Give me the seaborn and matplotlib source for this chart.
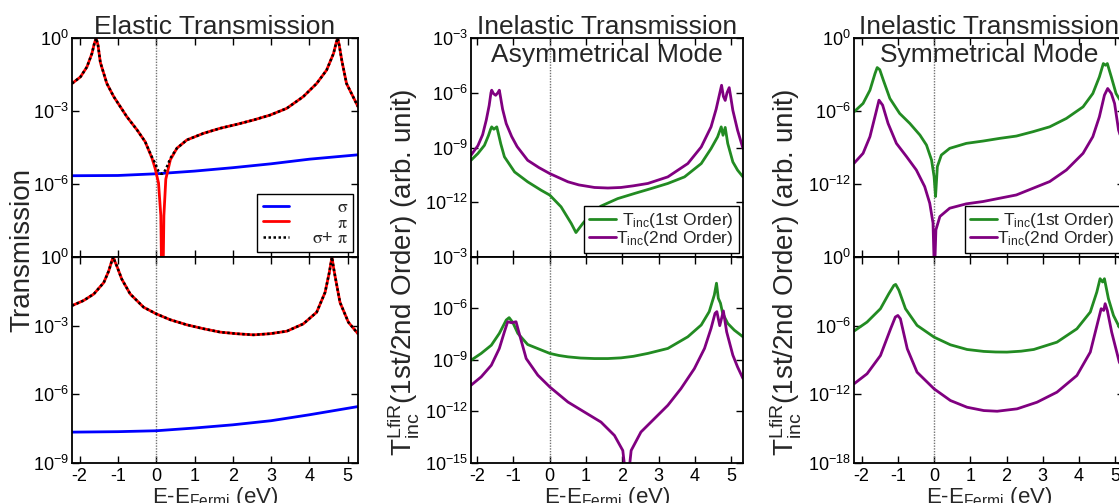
import numpy as np
import pandas as pd
import matplotlib
matplotlib.use("Agg")
import matplotlib.pyplot as plt
import seaborn as sns
from matplotlib.ticker import NullLocator

# ---------------- data (x in eV, values given as log10 of transmission) -------------
# Panel 1 (elastic), top
p1t_x = [-2.2, -1.98, -1.81, -1.68, -1.62, -1.57, -1.52, -1.46, -1.29, -1.11, -0.94, -0.77,
         -0.50, -0.29, -0.11, -0.03, 0.06, 0.12, 0.16, 0.20, 0.25, 0.37, 0.54, 0.80, 1.23,
         1.67, 2.10, 2.54, 2.97, 3.41, 3.84, 4.19, 4.45, 4.63, 4.70, 4.74, 4.78, 4.85, 4.97, 5.27]
p1t_pi = [-1.87, -1.6, -1.19, -0.64, -0.25, 0.0, -0.3, -1.0, -1.87, -2.41, -2.82, -3.23,
          -3.78, -4.26, -4.94, -5.35, -5.96, -7.3, -12.0, -7.3, -5.8, -5.0, -4.53, -4.19, -3.92,
          -3.71, -3.55, -3.37, -3.17, -2.89, -2.41, -1.87, -1.32, -0.64, -0.2, 0.0, -0.3, -0.95, -1.87, -2.82]
p1t_tot = [-1.87, -1.6, -1.19, -0.64, -0.25, 0.0, -0.3, -1.0, -1.87, -2.41, -2.82, -3.23,
           -3.78, -4.26, -4.9, -5.14, -5.48, -5.58, -5.58, -5.52, -5.4, -4.94, -4.53, -4.19, -3.92,
           -3.71, -3.55, -3.37, -3.17, -2.89, -2.41, -1.87, -1.32, -0.64, -0.2, 0.0, -0.3, -0.95, -1.87, -2.82]
p1t_sx = [-2.2, -1.0, 0.0, 1.0, 2.0, 3.0, 4.0, 5.27]
p1t_sigma = [-5.66, -5.65, -5.58, -5.47, -5.33, -5.17, -4.98, -4.80]

# Panel 1 (elastic), bottom
p1b_x = [-2.2, -1.9, -1.63, -1.37, -1.24, -1.16, -1.12, -1.08, -1.03, -0.9, -0.68, -0.33, 0.0,
         0.37, 0.8, 1.23, 1.67, 2.1, 2.54, 2.97, 3.41, 3.84, 4.19, 4.41, 4.52, 4.59, 4.63, 4.67,
         4.8, 5.02, 5.27]
p1b_pi = [-2.13, -1.91, -1.62, -1.12, -0.61, -0.17, 0.0, -0.2, -0.39, -0.97, -1.62, -2.2, -2.49,
          -2.75, -2.97, -3.14, -3.29, -3.36, -3.41, -3.36, -3.25, -2.93, -2.42, -1.55, -0.68, 0.0,
          -0.45, -0.83, -1.99, -2.86, -3.36]
p1b_tot = [-2.13, -1.91, -1.62, -1.12, -0.61, -0.17, 0.0, -0.2, -0.39, -0.97, -1.62, -2.2, -2.49,
           -2.75, -2.97, -3.14, -3.29, -3.36, -3.41, -3.36, -3.25, -2.93, -2.42, -1.55, -0.68, 0.0,
           -0.45, -0.83, -1.99, -2.86, -3.36]
p1b_sx = [-2.2, -1.0, 0.0, 1.0, 2.0, 3.0, 4.0, 5.27]
p1b_sigma = [-7.67, -7.65, -7.61, -7.49, -7.35, -7.17, -6.91, -6.55]

# Panel 2 (asymmetrical mode), top
p2t_x1 = [-2.17, -1.98, -1.8, -1.69, -1.63, -1.60, -1.54, -1.46, -1.42, -1.35, -1.25, -0.97,
          -0.61, -0.24, 0.0, 0.31, 0.59, 0.72, 0.91, 1.14, 1.41, 1.87, 2.33, 2.79, 3.25, 3.71,
          4.17, 4.44, 4.62, 4.72, 4.77, 4.83, 4.9, 5.04, 5.17, 5.32]
p2t_1st = [-9.70, -9.33, -8.88, -8.35, -8.0, -7.87, -8.0, -7.87, -8.2, -8.8, -9.51, -10.34,
           -10.88, -11.34, -11.61, -12.25, -13.16, -13.66, -13.16, -12.62, -12.21, -11.8, -11.52,
           -11.25, -10.97, -10.61, -9.88, -9.06, -8.42, -7.87, -8.33, -7.9, -8.78, -9.79, -10.24, -10.61]
p2t_x2 = [-2.17, -1.98, -1.85, -1.75, -1.67, -1.62, -1.60, -1.55, -1.49, -1.43, -1.39, -1.36,
          -1.3, -1.2, -1.05, -0.9, -0.61, -0.3, 0.0, 0.5, 0.8, 1.23, 1.6, 1.96, 2.3, 2.7, 3.25,
          3.8, 4.17, 4.44, 4.58, 4.66, 4.73, 4.78, 4.83, 4.88, 4.94, 4.98, 5.04, 5.17, 5.32]
p2t_2nd = [-9.42, -8.9, -8.3, -7.5, -6.7, -6.0, -5.86, -6.05, -6.14, -6.0, -5.86, -6.2,
           -6.9, -7.69, -8.4, -8.95, -9.7, -10.1, -10.43, -10.88, -11.05, -11.19, -11.22, -11.19,
           -11.1, -10.97, -10.61, -9.88, -8.97, -7.87, -6.9, -6.2, -5.59, -6.2, -6.42, -6.0,
           -5.72, -6.2, -6.96, -8.05, -9.06]

# Panel 2 (asymmetrical mode), bottom
p2b_x1 = [-2.17, -1.89, -1.61, -1.39, -1.2, -1.12, -1.02, -0.88, -0.61, 0.0, 0.25, 0.5, 0.85,
          1.23, 1.6, 1.96, 2.3, 2.7, 3.25, 3.8, 4.17, 4.39, 4.53, 4.59, 4.64, 4.7, 4.76, 4.9,
          5.08, 5.32]
p2b_1st = [-9.03, -8.63, -8.15, -7.46, -6.68, -6.54, -6.82, -7.46, -8.11, -8.63, -8.75, -8.83,
           -8.9, -8.93, -8.93, -8.89, -8.8, -8.63, -8.34, -7.66, -6.97, -6.19, -5.22, -4.53,
           -5.41, -5.7, -6.29, -6.88, -7.27, -7.66]
p2b_x2 = [-2.17, -1.89, -1.61, -1.39, -1.25, -1.16, -1.05, -0.93, -0.83, -0.65, -0.33, 0.0, 0.5,
          0.95, 1.41, 1.78, 2.01, 2.13, 2.24, 2.51, 2.88, 3.25, 3.61, 3.98, 4.26, 4.44, 4.55, 4.6,
          4.68, 4.78, 4.87, 5.04, 5.17, 5.32]
p2b_2nd = [-10.49, -10.0, -9.32, -8.34, -7.37, -6.78, -6.84, -6.78, -7.56, -8.93, -9.9, -10.59,
           -11.47, -12.05, -12.64, -13.42, -14.3, -16.5, -14.3, -13.22, -12.44, -11.66, -10.69,
           -9.52, -8.34, -7.17, -6.29, -6.19, -7.01, -6.15, -7.37, -8.73, -9.42, -10.1]

# Panel 3 (symmetrical mode), top
p3t_x1 = [-2.21, -1.96, -1.77, -1.63, -1.57, -1.5, -1.4, -1.22, -0.95, -0.67, -0.39, -0.21,
          -0.07, 0.0, 0.04, 0.09, 0.2, 0.43, 0.89, 1.35, 1.81, 2.27, 2.73, 3.19, 3.65, 4.11,
          4.38, 4.56, 4.67, 4.73, 4.78, 4.89, 5.02, 5.15, 5.3]
p3t_1st = [-6.07, -5.38, -4.29, -2.92, -2.43, -2.6, -3.47, -4.97, -6.2, -7.02, -7.98, -8.8,
           -10.03, -11.39, -13.03, -10.57, -9.62, -9.07, -8.66, -8.47, -8.25, -8.06, -7.7, -7.3,
           -6.61, -5.66, -4.56, -3.2, -2.1, -2.24, -2.1, -3.2, -4.56, -5.2, -5.8]
p3t_x2 = [-2.21, -1.96, -1.77, -1.61, -1.52, -1.42, -1.27, -1.04, -0.76, -0.49, -0.26, -0.12,
          -0.03, 0.01, 0.05, 0.16, 0.43, 0.89, 1.35, 1.81, 2.27, 2.73, 3.19, 3.65, 4.11, 4.38,
          4.56, 4.7, 4.79, 4.89, 4.98, 5.09, 5.2, 5.3]
p3t_2nd = [-10.3, -9.48, -8.11, -6.2, -5.11, -5.52, -7.02, -8.66, -9.75, -10.85, -12.21, -13.58,
           -15.2, -19.5, -15.77, -14.67, -13.99, -13.63, -13.44, -13.17, -12.9, -12.35, -11.8,
           -10.85, -9.48, -8.11, -6.48, -4.7, -4.15, -4.56, -5.38, -7.57, -8.6, -9.3]

# Panel 3 (symmetrical mode), bottom
p3b_x1 = [-2.21, -1.85, -1.48, -1.25, -1.11, -1.06, -0.97, -0.79, -0.47, 0.0, 0.45, 0.91, 1.37,
          1.7, 2.01, 2.4, 2.75, 3.39, 3.94, 4.31, 4.49, 4.58, 4.65, 4.7, 4.81, 4.95, 5.11, 5.3]
p3b_1st = [-6.49, -5.7, -4.53, -3.22, -2.49, -2.4, -2.92, -4.53, -5.99, -7.02, -7.69, -8.1, -8.27,
           -8.32, -8.33, -8.25, -8.1, -7.46, -6.29, -4.82, -3.07, -1.9, -2.19, -1.9, -3.65,
           -5.12, -6.14, -6.7]
p3b_x2 = [-2.21, -1.85, -1.48, -1.2, -1.07, -1.0, -0.93, -0.74, -0.47, 0.0, 0.45, 0.91, 1.37,
          1.74, 2.29, 2.84, 3.39, 3.94, 4.31, 4.54, 4.61, 4.68, 4.72, 4.78, 4.9, 5.04, 5.11, 5.3]
p3b_2nd = [-11.11, -10.23, -8.63, -6.29, -5.26, -5.12, -5.41, -8.04, -10.09, -11.55, -12.57,
           -13.16, -13.45, -13.51, -13.3, -12.72, -11.84, -10.38, -8.33, -5.41, -4.53, -4.68,
           -4.09, -4.68, -6.58, -8.33, -9.21, -10.3]

x_ticks = [-2, -1, 0, 1, 2, 3, 4, 5]

# ---------------- style ----------------
sns.set_style("ticks")
plt.rcParams.update({
    "font.family": ["Liberation Sans", "DejaVu Sans"],
    "mathtext.fontset": "stix",
    "mathtext.default": "regular",
    "axes.unicode_minus": False,
    "xtick.direction": "in", "ytick.direction": "in",
    "xtick.top": True, "ytick.right": True,
    "xtick.major.size": 5, "ytick.major.size": 5,
    "xtick.major.width": 1.0, "ytick.major.width": 1.0,
    "axes.linewidth": 1.3, "axes.edgecolor": "black",
    "xtick.labelsize": 13, "ytick.labelsize": 13,
    "xtick.color": "black", "ytick.color": "black",
})

W, H = 1119, 503
fig = plt.figure(figsize=(W / 100, H / 100), dpi=100)


def ax_at(left, right, top, bottom):
    return fig.add_axes([left / W, 1 - bottom / H, (right - left) / W, (bottom - top) / H])


GREEN = "#228B22"
PURPLE = "#800080"
LW = 2.0

panels = [
    dict(left=72, right=358, xlim=(-2.2, 5.27), ylim=(1e-9, 1), yt=[1e-9, 1e-6, 1e-3, 1]),
    dict(left=471, right=743, xlim=(-2.17, 5.32), ylim=(1e-15, 1e-3), yt=[1e-15, 1e-12, 1e-9, 1e-6, 1e-3]),
    dict(left=854, right=1124, xlim=(-2.21, 5.24), ylim=(1e-18, 1), yt=[1e-18, 1e-12, 1e-6, 1]),
]

axes = []
for p in panels:
    at = ax_at(p["left"], p["right"], 38, 257)
    ab = ax_at(p["left"], p["right"], 257, 462.5)
    for a in (at, ab):
        a.set_yscale("log")
        a.axvline(0, color="0.45", lw=1.0, ls=(0, (1, 1)), zorder=1)
    axes.append((at, ab))


def L(x, v):
    return pd.DataFrame({"x": x, "y": np.power(10.0, np.asarray(v, dtype=float))})


def draw(ax, x, v, **kw):
    d = L(x, v)
    sns.lineplot(data=d, x="x", y="y", ax=ax, estimator=None, sort=False, **kw)


DOT = (0, (1, 1))
# Panel 1
at, ab = axes[0]
draw(at, p1t_sx, p1t_sigma, color="blue", lw=LW, label=r"$\mathrm{\sigma}$")
draw(at, p1t_x, p1t_pi, color="red", lw=LW, label=r"$\mathrm{\pi}$")
draw(at, p1t_x, p1t_tot, color="black", lw=1.8, ls=DOT, label=r"$\mathrm{\sigma}$+ $\mathrm{\pi}$")
draw(ab, p1b_sx, p1b_sigma, color="blue", lw=LW)
draw(ab, p1b_x, p1b_pi, color="red", lw=LW)
draw(ab, p1b_x, p1b_tot, color="black", lw=1.8, ls=DOT)

# Panel 2
at, ab = axes[1]
draw(at, p2t_x1, p2t_1st, color=GREEN, lw=LW, label=r"T$_{\mathdefault{inc}}$(1st Order)")
draw(at, p2t_x2, p2t_2nd, color=PURPLE, lw=LW, label=r"T$_{\mathdefault{inc}}$(2nd Order)")
draw(ab, p2b_x1, p2b_1st, color=GREEN, lw=LW)
draw(ab, p2b_x2, p2b_2nd, color=PURPLE, lw=LW)

# Panel 3
at, ab = axes[2]
draw(at, p3t_x1, p3t_1st, color=GREEN, lw=LW, label=r"T$_{\mathdefault{inc}}$(1st Order)")
draw(at, p3t_x2, p3t_2nd, color=PURPLE, lw=LW, label=r"T$_{\mathdefault{inc}}$(2nd Order)")
draw(ab, p3b_x1, p3b_1st, color=GREEN, lw=LW)
draw(ab, p3b_x2, p3b_2nd, color=PURPLE, lw=LW)

for p, (at, ab) in zip(panels, axes):
    for a in (at, ab):
        a.set_xlim(*p["xlim"])
        a.set_ylim(*p["ylim"])
        a.set_xticks(x_ticks)
        a.set_yticks(p["yt"])
        a.yaxis.set_minor_locator(NullLocator())
        a.xaxis.set_minor_locator(NullLocator())
        a.tick_params(axis="y", pad=2)
        a.tick_params(axis="x", pad=4)
        a.set_ylabel("")
        a.set_xlabel("")
        if a.get_legend() is not None:
            a.get_legend().remove()
    at.tick_params(labelbottom=False)
    at.get_yaxis().get_major_ticks()[0].label1.set_visible(False)
    ab.set_xlabel(r"E-E$_{\mathdefault{Fermi}}$ (eV)", fontsize=16, labelpad=0)

legs = []
leg1 = axes[0][0].legend(loc="lower right", fontsize=13, frameon=True, fancybox=False,
                         edgecolor="black", framealpha=1, handlelength=1.45, handletextpad=1.27,
                         labelspacing=-0.08, borderpad=0.3, borderaxespad=0.25)
legs.append(leg1)
for at in (axes[1][0], axes[2][0]):
    lg = at.legend(loc="lower right", fontsize=12.5, frameon=True, fancybox=False,
                   edgecolor="black", framealpha=1, handlelength=1.6, handletextpad=0.0,
                   labelspacing=-0.05, borderpad=0.28, borderaxespad=0.25)
    legs.append(lg)
for lg in legs:
    lg.get_frame().set_linewidth(1.0)

# titles
TS = 19
axes[0][0].text(0.5, 1.018, "Elastic Transmission", transform=axes[0][0].transAxes,
                ha="center", va="baseline", fontsize=TS)
axes[1][0].text(0.5, 1.018, "Inelastic Transmission", transform=axes[1][0].transAxes,
                ha="center", va="baseline", fontsize=TS)
axes[1][0].text(0.5, 0.89, "Asymmetrical Mode", transform=axes[1][0].transAxes,
                ha="center", va="baseline", fontsize=TS)
axes[2][0].text(0.5, 1.018, "Inelastic Transmission", transform=axes[2][0].transAxes,
                ha="center", va="baseline", fontsize=TS)
axes[2][0].text(0.5, 0.89, "Symmetrical Mode", transform=axes[2][0].transAxes,
                ha="center", va="baseline", fontsize=TS)

# y labels spanning both rows
fig.text(22 / W, 1 - 250 / H, "Transmission", rotation=90, ha="center", va="center", fontsize=20)
ylab = r"$\mathdefault{T^{LfiR}_{inc}}$(1st/2nd Order) (arb. unit)"
fig.text(403 / W, 1 - 272 / H, ylab, rotation=90, ha="center", va="center", fontsize=20)
fig.text(785 / W, 1 - 272 / H, ylab, rotation=90, ha="center", va="center", fontsize=20)

# right-align legend labels inside their column
fig.canvas.draw()
r = fig.canvas.get_renderer()
for lg in legs:
    texts = lg.get_texts()
    widths = [t.get_window_extent(r).width for t in texts]
    wmax = max(widths)
    for t, w in zip(texts, widths):
        t.set_position((wmax - w, 0))

fig.savefig("out.png", dpi=100)
